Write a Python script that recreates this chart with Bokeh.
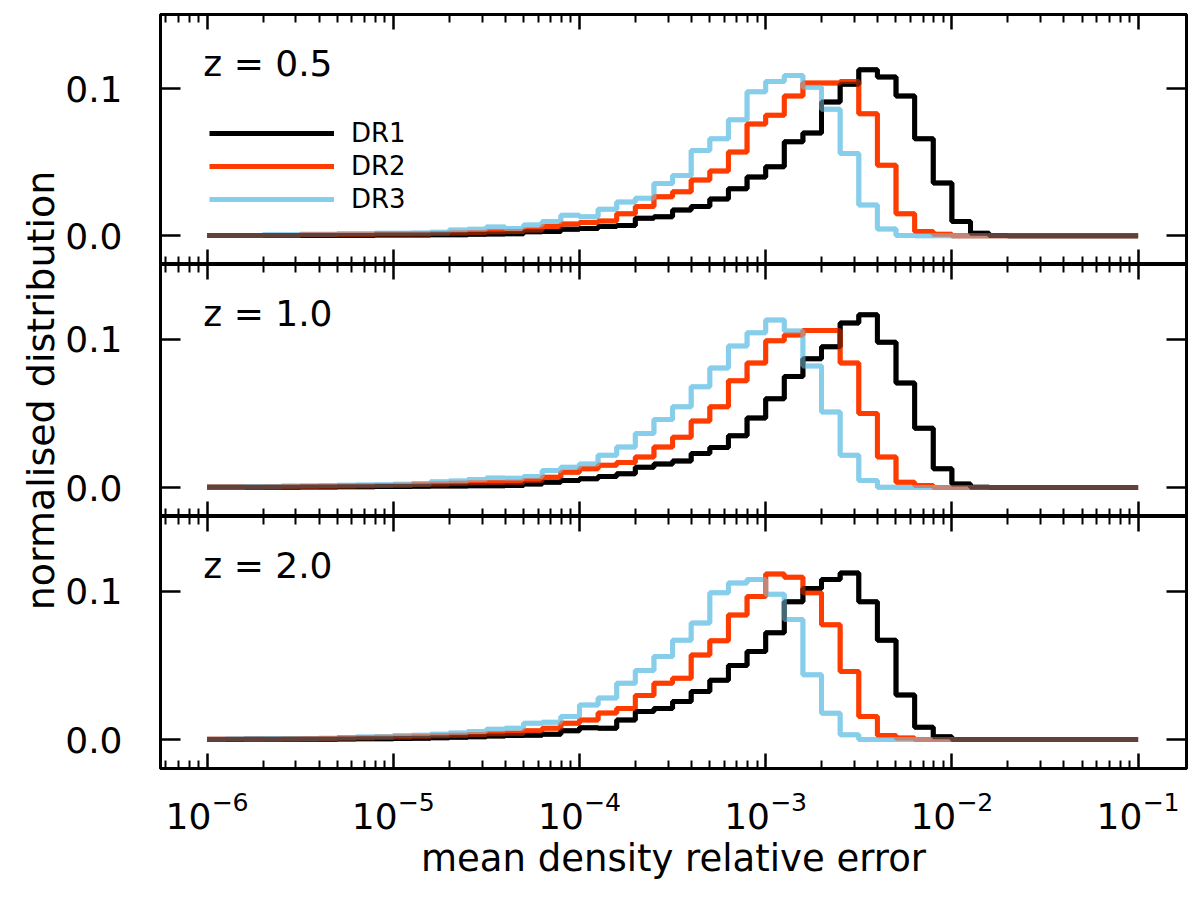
import numpy as np
from bokeh.plotting import figure
from bokeh.layouts import column, row
from bokeh.models import (Range1d, FixedTicker, LogAxis, LinearAxis, Label,
                          Legend, LegendItem, PrintfTickFormatter)
from bokeh.embed import file_html
from bokeh.resources import INLINE

# 50 log bins, 0.1 dex wide, from 1e-6 to 1e-1
edges = 10 ** np.linspace(-6, -1, 51)

redshifts = ["0.5", "1.0", "2.0"]
releases = ["DR1", "DR2", "DR3"]

# z = 0.5
dr1_z05 = [0.0002, 0.0002, 0.0002, 0.0002, 0.0002, 0.0002, 0.0002, 0.0002, 0.0002, 0.0005,
           0.0005, 0.0005, 0.0008, 0.0008, 0.0010, 0.0012, 0.0014, 0.0027, 0.0030, 0.0045,
           0.0050, 0.0063, 0.0070, 0.0120, 0.0130, 0.0176, 0.0200, 0.0250, 0.0320, 0.0400,
           0.0470, 0.0640, 0.0700, 0.0910, 0.1030, 0.1130, 0.1080, 0.0950, 0.0660, 0.0360,
           0.0097, 0.0018, 0.0002, 0, 0, 0, 0, 0, 0, 0]
dr2_z05 = [0.0003, 0.0003, 0.0003, 0.0003, 0.0003, 0.0008, 0.0008, 0.0008, 0.0008, 0.0012,
           0.0012, 0.0012, 0.0015, 0.0020, 0.0022, 0.0028, 0.0030, 0.0040, 0.0063, 0.0080,
           0.0090, 0.0100, 0.0150, 0.0200, 0.0266, 0.0300, 0.0380, 0.0440, 0.0570, 0.0760,
           0.0820, 0.0950, 0.1040, 0.1040, 0.1050, 0.0830, 0.0480, 0.0150, 0.0030, 0.0010,
           0, 0, 0, 0, 0, 0, 0, 0, 0, 0]
dr3_z05 = [0.0003, 0.0003, 0.0003, 0.0008, 0.0008, 0.0010, 0.0010, 0.0015, 0.0015, 0.0018,
           0.0018, 0.0020, 0.0025, 0.0040, 0.0045, 0.0060, 0.0050, 0.0074, 0.0097, 0.0140,
           0.0130, 0.0180, 0.0230, 0.0255, 0.0356, 0.0410, 0.0580, 0.0660, 0.0790, 0.0980,
           0.1050, 0.1090, 0.1010, 0.0860, 0.0560, 0.0210, 0.0047, 0.0002, 0, 0,
           0, 0, 0, 0, 0, 0, 0, 0, 0, 0]

# z = 1.0
dr1_z10 = [0.0002, 0.0002, 0.0002, 0.0003, 0.0003, 0.0004, 0.0004, 0.0005, 0.0006, 0.0007,
           0.0008, 0.0009, 0.0010, 0.0011, 0.0012, 0.0013, 0.0014, 0.0025, 0.0036, 0.0048,
           0.0060, 0.0075, 0.0093, 0.0138, 0.0160, 0.0180, 0.0230, 0.0270, 0.0350, 0.0470,
           0.0600, 0.0750, 0.0870, 0.0950, 0.1110, 0.1166, 0.0980, 0.0705, 0.0400, 0.0127,
           0.0025, 0.0002, 0, 0, 0, 0, 0, 0, 0, 0]
dr2_z10 = [0.0002, 0.0002, 0.0003, 0.0004, 0.0006, 0.0008, 0.0009, 0.0010, 0.0012, 0.0014,
           0.0016, 0.0022, 0.0025, 0.0030, 0.0032, 0.0034, 0.0036, 0.0048, 0.0070, 0.0104,
           0.0127, 0.0150, 0.0170, 0.0206, 0.0274, 0.0340, 0.0450, 0.0546, 0.0720, 0.0840,
           0.0990, 0.1030, 0.1060, 0.1060, 0.0840, 0.0500, 0.0206, 0.0036, 0.0014, 0,
           0, 0, 0, 0, 0, 0, 0, 0, 0, 0]
dr3_z10 = [0.0003, 0.0003, 0.0008, 0.0008, 0.0010, 0.0012, 0.0014, 0.0016, 0.0018, 0.0020,
           0.0022, 0.0025, 0.0040, 0.0045, 0.0055, 0.0065, 0.0063, 0.0075, 0.0116, 0.0138,
           0.0160, 0.0218, 0.0274, 0.0365, 0.0460, 0.0546, 0.0680, 0.0807, 0.0955, 0.1045,
           0.1130, 0.1057, 0.0820, 0.0510, 0.0218, 0.0048, 0.0002, 0, 0, 0,
           0, 0, 0, 0, 0, 0, 0, 0, 0, 0]

# z = 2.0
dr1_z20 = [0.0001, 0.0001, 0.0002, 0.0002, 0.0002, 0.0003, 0.0003, 0.0004, 0.0005, 0.0006,
           0.0007, 0.0009, 0.0012, 0.0015, 0.0020, 0.0025, 0.0027, 0.0030, 0.0036, 0.0060,
           0.0080, 0.0077, 0.0133, 0.0190, 0.0210, 0.0257, 0.0324, 0.0400, 0.0500, 0.0595,
           0.0720, 0.0930, 0.1020, 0.1080, 0.1124, 0.0930, 0.0670, 0.0300, 0.0083, 0.0020,
           0, 0, 0, 0, 0, 0, 0, 0, 0, 0]
dr2_z20 = [0.0002, 0.0003, 0.0003, 0.0003, 0.0004, 0.0005, 0.0007, 0.0010, 0.0012, 0.0016,
           0.0018, 0.0022, 0.0026, 0.0030, 0.0035, 0.0040, 0.0043, 0.0060, 0.0077, 0.0110,
           0.0133, 0.0180, 0.0210, 0.0297, 0.0380, 0.0414, 0.0570, 0.0667, 0.0840, 0.0966,
           0.1117, 0.1095, 0.0990, 0.0775, 0.0460, 0.0155, 0.0027, 0.0010, 0, 0,
           0, 0, 0, 0, 0, 0, 0, 0, 0, 0]
dr3_z20 = [0.0003, 0.0005, 0.0005, 0.0007, 0.0007, 0.0008, 0.0009, 0.0012, 0.0017, 0.0020,
           0.0027, 0.0030, 0.0036, 0.0045, 0.0055, 0.0070, 0.0077, 0.0110, 0.0117, 0.0155,
           0.0234, 0.0280, 0.0380, 0.0466, 0.0560, 0.0670, 0.0786, 0.0990, 0.1056, 0.1080,
           0.0980, 0.0810, 0.0437, 0.0178, 0.0032, 0, 0, 0, 0, 0,
           0, 0, 0, 0, 0, 0, 0, 0, 0, 0]

panels = [(dr1_z05, dr2_z05, dr3_z05),
          (dr1_z10, dr2_z10, dr3_z10),
          (dr1_z20, dr2_z20, dr3_z20)]

FONT = "DejaVu Sans"
BLACK, RED, BLUE = "#000000", "#FF3C00", "#87CEEB"
LW = 5

x_range = Range1d(10 ** -6.25, 10 ** -0.74)
major_x = [10.0 ** e for e in range(-6, 0)]
minor_x = [k * 10.0 ** e for e in range(-7, 0) for k in range(2, 10)
           if 10 ** -6.25 < k * 10.0 ** e < 10 ** -0.74]

LABEL_W = 60      # strip on the left holding the shared y label
FIG_W = 1132
HEIGHTS = [(250, 14, 0), (252, 0, 0), (252, 0, 130)]   # frame, top, bottom


def style_axis(ax, tick_len, labels):
    ax.major_tick_in = tick_len
    ax.major_tick_out = 0
    ax.minor_tick_in = 8
    ax.minor_tick_out = 0
    ax.major_tick_line_width = 2.5
    ax.minor_tick_line_width = 2
    ax.axis_line_width = 3
    ax.major_label_text_font = FONT
    ax.major_label_text_color = "black"
    if labels:
        ax.major_label_text_font_size = "36px"
    else:
        # ticks only; labels tiny and invisible
        ax.major_label_text_font_size = "1px"
        ax.major_label_text_alpha = 0
        ax.major_label_standoff = 0


def make_panel(k):
    dr1, dr2, dr3 = panels[k]
    frame_h, top, bottom = HEIGHTS[k]
    last = k == len(panels) - 1
    p = figure(width=FIG_W, height=top + frame_h + bottom, x_axis_type="log",
               x_range=x_range, y_range=Range1d(-0.0195, 0.1505),
               output_backend="svg", toolbar_location=None,
               min_border_left=160 - LABEL_W, min_border_right=6,
               min_border_top=top, min_border_bottom=bottom)
    p.xgrid.visible = False
    p.ygrid.visible = False
    p.outline_line_color = "black"
    p.outline_line_width = 3
    p.outline_line_alpha = 1

    p.add_layout(LogAxis(), "above")
    p.add_layout(LinearAxis(), "right")
    for ax in p.below + p.above:
        ax.ticker = FixedTicker(ticks=major_x, minor_ticks=minor_x)
        style_axis(ax, 15, last and ax in p.below)
    for ax in p.left + p.right:
        ax.ticker = FixedTicker(ticks=[0, 0.1], minor_ticks=[])
        ax.formatter = PrintfTickFormatter(format="%.1f")
        style_axis(ax, 20, ax in p.left)
    p.left[0].major_label_standoff = 38

    if last:
        p.below[0].major_label_standoff = 22
        p.below[0].axis_label = "mean density relative error"
        p.below[0].axis_label_standoff = 5
        p.below[0].axis_label_text_font = FONT
        p.below[0].axis_label_text_font_size = "37px"
        p.below[0].axis_label_text_font_style = "normal"
        p.below[0].axis_label_text_color = "black"

    xs = list(edges)
    series = {"DR1": (dr1, BLACK), "DR2": (dr2, RED), "DR3": (dr3, BLUE)}
    solid = {}
    # opaque pass, then a half-transparent pass so crossings mix
    for name in ["DR1", "DR3", "DR2"]:
        vals, col = series[name]
        solid[name] = p.step(xs, list(vals) + [vals[-1]], mode="after",
                             line_color=col, line_width=LW)
    for name in ["DR2", "DR3", "DR1"]:
        vals, col = series[name]
        p.step(xs, list(vals) + [vals[-1]], mode="after",
               line_color=col, line_width=LW, line_alpha=0.5)

    p.add_layout(Label(x=10 ** -6.02, y=0.1175, text="z = " + redshifts[k],
                       text_font=FONT, text_font_size="36px", text_color="black",
                       text_baseline="alphabetic"))

    if k == 0:
        legend = Legend(items=[LegendItem(label=n, renderers=[solid[n]]) for n in releases],
                        location=(49, 49), glyph_width=125, glyph_height=32,
                        label_height=32, label_standoff=17, spacing=1,
                        padding=0, margin=0, border_line_alpha=0,
                        background_fill_alpha=0, label_text_font=FONT,
                        label_text_font_size="26px", label_text_color="black")
        p.add_layout(legend)
    return p


figs = [make_panel(k) for k in range(len(panels))]

# shared y label in its own narrow strip
total_h = sum(f + t + b for f, t, b in HEIGHTS)
ylab = figure(width=LABEL_W, height=total_h, x_range=Range1d(0, LABEL_W),
              y_range=Range1d(0, total_h), output_backend="svg",
              toolbar_location=None, x_axis_location=None, y_axis_location=None,
              min_border=0, outline_line_color=None)
ylab.xgrid.visible = False
ylab.ygrid.visible = False
ylab.add_layout(Label(x=40, y=total_h - 390, text="normalised distribution",
                      angle=np.pi / 2, text_align="center", text_baseline="middle",
                      text_font=FONT, text_font_size="38px", text_color="black"))

layout = row(ylab, column(*figs, spacing=0), spacing=0)

open("out.html", "w").write(file_html(layout, INLINE))
